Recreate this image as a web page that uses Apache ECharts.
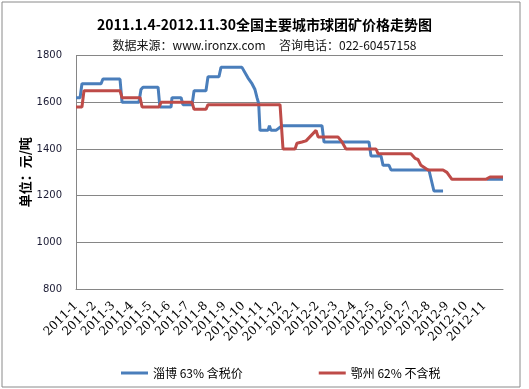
<!DOCTYPE html>
<html>
<head>
<meta charset="utf-8">
<script src="https://cdn.jsdelivr.net/npm/echarts@6/dist/echarts.min.js"></script>
<style>
html,body{margin:0;padding:0;background:#fff;}
#c{width:529px;height:389px;}
</style>
</head>
<body>
<div id="c"></div>
<script>
// x axis tick labels (month starts)
var monthLabels = ['2011-1','2011-2','2011-3','2011-4','2011-5','2011-6','2011-7','2011-8','2011-9','2011-10','2011-11','2011-12',
  '2012-1','2012-2','2012-3','2012-4','2012-5','2012-6','2012-7','2012-8','2012-9','2012-10','2012-11'];
var seriesNames = ['淄博 63% 含税价', '鄂州 62% 不含税'];

// 淄博: x in months since 2011-1-1, null = missing data
var ziboX = [0.00,0.22,0.32,1.35,1.45,2.37,2.48,3.39,3.50,3.61,4.42,4.52,5.12,5.17,5.66,5.76,6.25,6.36,7.00,7.11,7.70,7.81,8.94,9.26,9.48,9.64,9.75,9.84,9.91,10.34,10.42,10.50,10.77,11.10,13.25,13.36,15.78,15.89,16.43,16.54,16.86,16.97,19.01,19.28,19.77,20.5,22.14,23.00];
var ziboY = [1620,1620,1680,1680,1700,1700,1600,1600,1655,1665,1665,1580,1580,1620,1620,1590,1590,1650,1650,1710,1710,1750,1750,1705,1680,1655,1620,1595,1480,1480,1500,1480,1480,1500,1500,1430,1430,1370,1370,1330,1330,1310,1310,1220,1220,null,1270,1270];

// 鄂州
var ezhouX = [0.00,0.32,0.43,2.37,2.48,3.45,3.56,4.47,4.58,6.25,6.36,7.00,7.11,10.99,11.15,11.80,11.90,12.17,12.39,12.93,13.04,14.11,14.33,14.54,16.16,16.27,18.04,18.26,18.42,18.58,18.96,19.77,19.98,20.25,22.08,22.30,23.00];
var ezhouY = [1580,1580,1650,1650,1620,1620,1580,1580,1600,1600,1570,1570,1590,1590,1400,1400,1425,1430,1435,1480,1452,1452,1430,1400,1400,1380,1380,1360,1355,1330,1310,1310,1300,1270,1270,1280,1280];

function pairs(xs, ys){ return xs.map(function(x,i){ return [x, ys[i] === null ? '-' : ys[i]]; }); }

var chart = echarts.init(document.getElementById('c'), null, {renderer:'canvas'});
chart.setOption({
  animation:false,
  backgroundColor:'#fff',
  graphic:[{type:'rect', shape:{x:2,y:2,width:518,height:385}, style:{fill:'none', stroke:'#8a8a8a', lineWidth:1}, silent:true}],
  title:[{
    text:'2011.1.4-2012.11.30全国主要城市球团矿价格走势图',
    left:'center', top:13,
    textStyle:{fontSize:14, fontWeight:'bold', color:'#000', fontFamily:'"Noto Sans CJK SC", sans-serif'}
  },{
    text:'数据来源：www.ironzx.com     咨询电话：022-60457158',
    left:'center', top:34,
    textStyle:{fontSize:12, fontWeight:'normal', color:'#111', fontFamily:'"Noto Sans CJK SC", sans-serif'}
  }],
  grid:{left:76, right:26, top:55.7, bottom:100, containLabel:false},
  legend:{
    data:seriesNames, left:116, top:362, icon:'rect', itemWidth:27, itemHeight:3, itemGap:76,
    textStyle:{fontSize:12, color:'#000', fontFamily:'"Noto Sans CJK SC", sans-serif'}
  },
  xAxis:{
    type:'value', min:0, max:23, interval:1,
    axisLine:{show:true, lineStyle:{color:'#868686', width:1}},
    axisTick:{show:false},
    splitLine:{show:false},
    axisLabel:{
      rotate:45, margin:15, fontSize:12, color:'#000', fontFamily:'"DejaVu Serif", serif',
      formatter:function(v){ var i=Math.round(v); return i < monthLabels.length ? monthLabels[i] : ''; }
    }
  },
  yAxis:{
    type:'value', min:800, max:1800, interval:200,
    name:'单位：元/吨', nameLocation:'middle', nameGap:44, nameRotate:90, nameMoveOverlap:false,
    nameTextStyle:{fontSize:13, fontWeight:'bold', color:'#000', fontFamily:'"Noto Sans CJK SC", sans-serif'},
    axisLine:{show:true, lineStyle:{color:'#868686', width:1}},
    axisTick:{show:false},
    splitLine:{show:true, lineStyle:{color:'#868686', width:1}},
    axisLabel:{fontSize:10, color:'#1a1a33', margin:14, fontFamily:'"DejaVu Sans", sans-serif',
      formatter:function(v){ return String(v); }}
  },
  series:[{
    name:seriesNames[0], type:'line', data:pairs(ziboX, ziboY), showSymbol:false, connectNulls:false,
    lineStyle:{color:'#4a7ebb', width:3}, itemStyle:{color:'#4a7ebb'}, z:2
  },{
    name:seriesNames[1], type:'line', data:pairs(ezhouX, ezhouY), showSymbol:false,
    lineStyle:{color:'#be4b48', width:3}, itemStyle:{color:'#be4b48'}, z:3
  }]
});
</script>
</body>
</html>
